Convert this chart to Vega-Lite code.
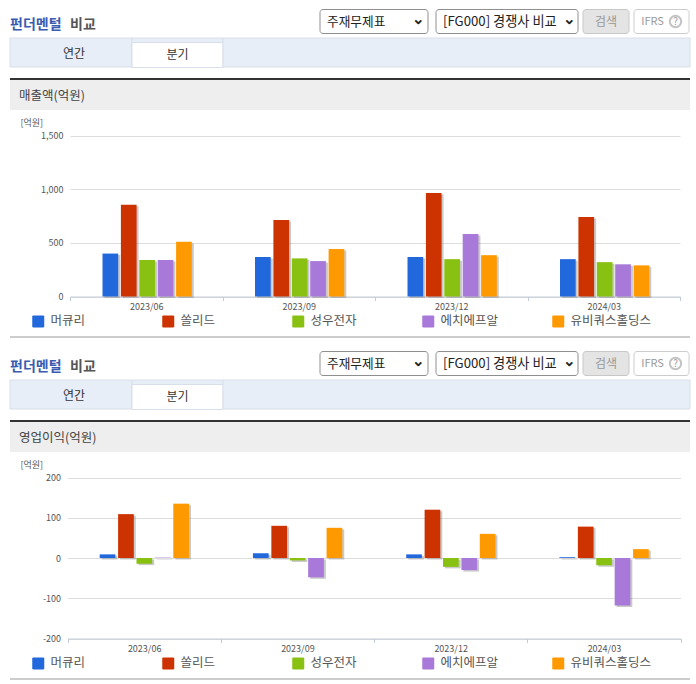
{
  "$schema": "https://vega.github.io/schema/vega-lite/v6.json",
  "padding": {"left": 9, "top": 6, "right": 0, "bottom": 0},
  "background": "#ffffff",
  "spacing": 10,
  "resolve": {"scale": {"color": "independent"}, "legend": {"color": "independent"}},
  "config": {
    "font": "Noto Sans CJK KR",
    "view": {"stroke": null},
    "axis": {"labelColor": "#555555", "labelFontSize": 9}
  },
  "datasets": {
    "one": [{"k": 1}],
    "revenue": [
      {"period": "2023/06", "company": "머큐리", "value": 400},
      {"period": "2023/06", "company": "쏠리드", "value": 855},
      {"period": "2023/06", "company": "성우전자", "value": 340},
      {"period": "2023/06", "company": "에치에프알", "value": 340},
      {"period": "2023/06", "company": "유비쿼스홀딩스", "value": 510},
      {"period": "2023/09", "company": "머큐리", "value": 368},
      {"period": "2023/09", "company": "쏠리드", "value": 712},
      {"period": "2023/09", "company": "성우전자", "value": 355},
      {"period": "2023/09", "company": "에치에프알", "value": 330},
      {"period": "2023/09", "company": "유비쿼스홀딩스", "value": 442},
      {"period": "2023/12", "company": "머큐리", "value": 368},
      {"period": "2023/12", "company": "쏠리드", "value": 965},
      {"period": "2023/12", "company": "성우전자", "value": 348},
      {"period": "2023/12", "company": "에치에프알", "value": 582},
      {"period": "2023/12", "company": "유비쿼스홀딩스", "value": 385},
      {"period": "2024/03", "company": "머큐리", "value": 348},
      {"period": "2024/03", "company": "쏠리드", "value": 740},
      {"period": "2024/03", "company": "성우전자", "value": 320},
      {"period": "2024/03", "company": "에치에프알", "value": 300},
      {"period": "2024/03", "company": "유비쿼스홀딩스", "value": 290}
    ],
    "profit": [
      {"period": "2023/06", "company": "머큐리", "value": 9},
      {"period": "2023/06", "company": "쏠리드", "value": 109},
      {"period": "2023/06", "company": "성우전자", "value": -14},
      {"period": "2023/06", "company": "에치에프알", "value": 1},
      {"period": "2023/06", "company": "유비쿼스홀딩스", "value": 135},
      {"period": "2023/09", "company": "머큐리", "value": 12},
      {"period": "2023/09", "company": "쏠리드", "value": 80},
      {"period": "2023/09", "company": "성우전자", "value": -6},
      {"period": "2023/09", "company": "에치에프알", "value": -48},
      {"period": "2023/09", "company": "유비쿼스홀딩스", "value": 75},
      {"period": "2023/12", "company": "머큐리", "value": 9},
      {"period": "2023/12", "company": "쏠리드", "value": 120},
      {"period": "2023/12", "company": "성우전자", "value": -22},
      {"period": "2023/12", "company": "에치에프알", "value": -30},
      {"period": "2023/12", "company": "유비쿼스홀딩스", "value": 60},
      {"period": "2024/03", "company": "머큐리", "value": 2},
      {"period": "2024/03", "company": "쏠리드", "value": 78},
      {"period": "2024/03", "company": "성우전자", "value": -18},
      {"period": "2024/03", "company": "에치에프알", "value": -118},
      {"period": "2024/03", "company": "유비쿼스홀딩스", "value": 22}
    ]
  },
  "data": {"name": "one"},
  "vconcat": [
    {
      "spacing": 0,
      "vconcat": [
        {
          "spacing": 0, "bounds": "flush",
          "hconcat": [
            {"width": 306, "height": 31, "layer": [
              {"mark": {"type": "text", "text": "펀더멘털", "align": "left", "dx": -153, "dy": 3, "fontSize": 14, "fontWeight": "bold", "color": "#3a5cb0"}},
              {"mark": {"type": "text", "text": "비교", "align": "left", "dx": -93, "dy": 3, "fontSize": 14, "fontWeight": "bold", "color": "#555555"}}
            ]},
            {"width": 116, "height": 31, "layer": [
              {"mark": {"type": "rect", "width": 108, "height": 24, "xOffset": -58, "yOffset": 15.5, "cornerRadius": 3, "fill": "#ffffff", "stroke": "#8f8f8f"}},
              {"mark": {"type": "text", "text": "주재무제표", "align": "left", "dx": -47, "fontSize": 12.7, "color": "#222222"}},
              {"mark": {"type": "text", "text": "⌄", "dx": 44, "dy": -3, "fontSize": 15, "fontWeight": "bold", "color": "#222222"}}
            ]},
            {"width": 150, "height": 31, "layer": [
              {"mark": {"type": "rect", "width": 142, "height": 24, "xOffset": -75, "yOffset": 15.5, "cornerRadius": 3, "fill": "#ffffff", "stroke": "#8f8f8f"}},
              {"mark": {"type": "text", "text": "[FG000] 경쟁사 비교", "align": "left", "dx": -64, "fontSize": 13.2, "color": "#222222"}},
              {"mark": {"type": "text", "text": "⌄", "dx": 62, "dy": -3, "fontSize": 15, "fontWeight": "bold", "color": "#222222"}}
            ]},
            {"width": 48, "height": 31, "layer": [
              {"mark": {"type": "rect", "width": 46, "height": 24, "xOffset": -24, "yOffset": 15.5, "cornerRadius": 3, "fill": "#e4e4e4", "stroke": "#c8c8c8"}},
              {"mark": {"type": "text", "text": "검색", "fontSize": 12, "color": "#999999"}}
            ]},
            {"width": 63, "height": 31, "layer": [
              {"mark": {"type": "rect", "width": 55, "height": 24, "xOffset": -31.5, "yOffset": 15.5, "cornerRadius": 3, "fill": "#ffffff", "stroke": "#cccccc"}},
              {"mark": {"type": "text", "text": "IFRS", "dx": -9, "fontSize": 11, "color": "#999999"}},
              {"mark": {"type": "text", "text": "?", "dx": 14, "fontSize": 10, "color": "#999999"}},
              {"mark": {"type": "point", "shape": "circle", "size": 130, "xOffset": 14, "stroke": "#aaaaaa", "fill": null}}
            ]}
          ]
        },
        {
          "spacing": 0, "bounds": "flush",
          "hconcat": [
            {"width": 122, "height": 29, "layer": [
              {"mark": {"type": "rect", "fill": "#e8eef8", "stroke": "#d8dfea"}},
              {"mark": {"type": "text", "text": "연간", "dx": 3, "dy": 1.5, "fontSize": 12, "color": "#333333"}}
            ]},
            {"width": 91, "height": 29, "layer": [
              {"mark": {"type": "rect", "fill": "#e8eef8", "stroke": "#d8dfea"}},
              {"mark": {"type": "rect", "width": 91, "height": 25, "xOffset": -45.5, "yOffset": 17, "fill": "#ffffff", "stroke": "#d8dfea"}},
              {"mark": {"type": "text", "text": "분기", "dy": 2, "fontSize": 12, "color": "#333333"}}
            ]},
            {"width": 467, "height": 29, "mark": {"type": "rect", "fill": "#e8eef8", "stroke": "#d8dfea"}}
          ]
        }
      ]
    },
    {
      "spacing": 0,
      "resolve": {"scale": {"color": "independent"}, "legend": {"color": "independent"}},
      "vconcat": [
        {"width": 680, "height": 2, "mark": {"type": "rect", "fill": "#333333"}},
        {"width": 680, "height": 30, "layer": [
          {"mark": {"type": "rect", "fill": "#eeeeee"}},
          {"mark": {"type": "text", "text": "매출액(억원)", "align": "left", "dx": -331, "dy": 1, "fontSize": 12.5, "color": "#444444"}}
        ]},
        {
          "width": 680, "height": 226,
          "data": {"name": "revenue"},
          "encoding": {
            "x": {
              "field": "period", "type": "nominal", "title": null,
              "scale": {"domain": ["2023/06", "2023/09", "2023/12", "2024/03"], "range": [60, 670], "paddingInner": 0, "paddingOuter": 0},
              "axis": {"offset": -39.5, "labelAngle": 0, "tickBand": "extent", "tickSize": 4, "labelPadding": 2, "domainColor": "#c3cbd9", "tickColor": "#c3cbd9", "grid": false}
            },
            "y": {
              "field": "value", "type": "quantitative",
              "scale": {"domain": [0, 1500], "range": [186.5, 25.5], "nice": false},
              "axis": {"values": [0, 500, 1000, 1500], "format": ",.0f", "offset": -60, "domain": false, "ticks": false, "labelPadding": 7, "gridColor": "#dddddd", "title": "[억원]", "titleAngle": 0, "titleX": -50, "titleY": 12, "titleAlign": "left", "titleBaseline": "middle", "titleFontSize": 9, "titleFontWeight": "normal", "titleColor": "#555555"}
            }
          },
          "resolve": {"scale": {"xOffset": "independent"}},
          "layer": [
            {
              "mark": {"type": "bar", "color": "#888888", "opacity": 0.45, "yOffset": 1.5},
              "encoding": {
                "xOffset": {
                  "field": "company", "type": "nominal",
                  "scale": {"domain": ["머큐리", "쏠리드", "성우전자", "에치에프알", "유비쿼스홀딩스"], "range": [34.5, 123.8], "paddingInner": 0.147, "paddingOuter": 0}
                }
              }
            },
            {
              "mark": {"type": "bar"},
              "encoding": {
                "xOffset": {
                  "field": "company", "type": "nominal",
                  "scale": {"domain": ["머큐리", "쏠리드", "성우전자", "에치에프알", "유비쿼스홀딩스"], "range": [32.5, 121.8], "paddingInner": 0.147, "paddingOuter": 0}
                },
                "color": {
                  "field": "company", "type": "nominal",
                  "scale": {"domain": ["머큐리", "쏠리드", "성우전자", "에치에프알", "유비쿼스홀딩스"], "range": ["#2268dd", "#cc3300", "#88c111", "#a879d9", "#ff9900"]},
                  "legend": {"title": null, "orient": "none", "legendX": 22, "legendY": 205, "columns": 5, "gridAlign": "all", "columnPadding": 30, "labelFontSize": 12.5, "labelColor": "#555555", "labelLimit": 200, "labelOffset": 6, "symbolSize": 144, "symbolStrokeWidth": 0, "symbolType": "M-.8,-1H.8Q1,-1 1,-.8V.8Q1,1 .8,1H-.8Q-1,1 -1,.8V-.8Q-1,-1 -.8,-1Z"}
                }
              }
            }
          ]
        },
        {"width": 680, "height": 2, "mark": {"type": "rect", "fill": "#cccccc"}}
      ]
    },
    {
      "spacing": 0,
      "vconcat": [
        {
          "spacing": 0, "bounds": "flush",
          "hconcat": [
            {"width": 306, "height": 31, "layer": [
              {"mark": {"type": "text", "text": "펀더멘털", "align": "left", "dx": -153, "dy": 3, "fontSize": 14, "fontWeight": "bold", "color": "#3a5cb0"}},
              {"mark": {"type": "text", "text": "비교", "align": "left", "dx": -93, "dy": 3, "fontSize": 14, "fontWeight": "bold", "color": "#555555"}}
            ]},
            {"width": 116, "height": 31, "layer": [
              {"mark": {"type": "rect", "width": 108, "height": 24, "xOffset": -58, "yOffset": 15.5, "cornerRadius": 3, "fill": "#ffffff", "stroke": "#8f8f8f"}},
              {"mark": {"type": "text", "text": "주재무제표", "align": "left", "dx": -47, "fontSize": 12.7, "color": "#222222"}},
              {"mark": {"type": "text", "text": "⌄", "dx": 44, "dy": -3, "fontSize": 15, "fontWeight": "bold", "color": "#222222"}}
            ]},
            {"width": 150, "height": 31, "layer": [
              {"mark": {"type": "rect", "width": 142, "height": 24, "xOffset": -75, "yOffset": 15.5, "cornerRadius": 3, "fill": "#ffffff", "stroke": "#8f8f8f"}},
              {"mark": {"type": "text", "text": "[FG000] 경쟁사 비교", "align": "left", "dx": -64, "fontSize": 13.2, "color": "#222222"}},
              {"mark": {"type": "text", "text": "⌄", "dx": 62, "dy": -3, "fontSize": 15, "fontWeight": "bold", "color": "#222222"}}
            ]},
            {"width": 48, "height": 31, "layer": [
              {"mark": {"type": "rect", "width": 46, "height": 24, "xOffset": -24, "yOffset": 15.5, "cornerRadius": 3, "fill": "#e4e4e4", "stroke": "#c8c8c8"}},
              {"mark": {"type": "text", "text": "검색", "fontSize": 12, "color": "#999999"}}
            ]},
            {"width": 63, "height": 31, "layer": [
              {"mark": {"type": "rect", "width": 55, "height": 24, "xOffset": -31.5, "yOffset": 15.5, "cornerRadius": 3, "fill": "#ffffff", "stroke": "#cccccc"}},
              {"mark": {"type": "text", "text": "IFRS", "dx": -9, "fontSize": 11, "color": "#999999"}},
              {"mark": {"type": "text", "text": "?", "dx": 14, "fontSize": 10, "color": "#999999"}},
              {"mark": {"type": "point", "shape": "circle", "size": 130, "xOffset": 14, "stroke": "#aaaaaa", "fill": null}}
            ]}
          ]
        },
        {
          "spacing": 0, "bounds": "flush",
          "hconcat": [
            {"width": 122, "height": 29, "layer": [
              {"mark": {"type": "rect", "fill": "#e8eef8", "stroke": "#d8dfea"}},
              {"mark": {"type": "text", "text": "연간", "dx": 3, "dy": 1.5, "fontSize": 12, "color": "#333333"}}
            ]},
            {"width": 91, "height": 29, "layer": [
              {"mark": {"type": "rect", "fill": "#e8eef8", "stroke": "#d8dfea"}},
              {"mark": {"type": "rect", "width": 91, "height": 25, "xOffset": -45.5, "yOffset": 17, "fill": "#ffffff", "stroke": "#d8dfea"}},
              {"mark": {"type": "text", "text": "분기", "dy": 2, "fontSize": 12, "color": "#333333"}}
            ]},
            {"width": 467, "height": 29, "mark": {"type": "rect", "fill": "#e8eef8", "stroke": "#d8dfea"}}
          ]
        }
      ]
    },
    {
      "spacing": 0,
      "resolve": {"scale": {"color": "independent"}, "legend": {"color": "independent"}},
      "vconcat": [
        {"width": 680, "height": 2, "mark": {"type": "rect", "fill": "#333333"}},
        {"width": 680, "height": 30, "layer": [
          {"mark": {"type": "rect", "fill": "#eeeeee"}},
          {"mark": {"type": "text", "text": "영업이익(억원)", "align": "left", "dx": -331, "dy": 1, "fontSize": 12.5, "color": "#444444"}}
        ]},
        {
          "width": 680, "height": 226,
          "data": {"name": "profit"},
          "encoding": {
            "x": {
              "field": "period", "type": "nominal", "title": null,
              "scale": {"domain": ["2023/06", "2023/09", "2023/12", "2024/03"], "range": [57.5, 670.5], "paddingInner": 0, "paddingOuter": 0},
              "axis": {"offset": -39.5, "labelAngle": 0, "tickBand": "extent", "tickSize": 4, "labelPadding": 2, "domainColor": "#c3cbd9", "tickColor": "#c3cbd9", "grid": false}
            },
            "y": {
              "field": "value", "type": "quantitative",
              "scale": {"domain": [-200, 200], "range": [186.5, 25.5], "nice": false},
              "axis": {"values": [-200, -100, 0, 100, 200], "labelExpr": "datum.value + ''", "offset": -57.5, "domain": false, "ticks": false, "labelPadding": 7, "gridColor": "#dddddd", "title": "[억원]", "titleAngle": 0, "titleX": -47.5, "titleY": 12, "titleAlign": "left", "titleBaseline": "middle", "titleFontSize": 9, "titleFontWeight": "normal", "titleColor": "#555555"}
            }
          },
          "resolve": {"scale": {"xOffset": "independent"}},
          "layer": [
            {
              "mark": {"type": "bar", "color": "#888888", "opacity": 0.45, "yOffset": 1.5},
              "encoding": {
                "xOffset": {
                  "field": "company", "type": "nominal",
                  "scale": {"domain": ["머큐리", "쏠리드", "성우전자", "에치에프알", "유비쿼스홀딩스"], "range": [34.2, 123.5], "paddingInner": 0.147, "paddingOuter": 0}
                }
              }
            },
            {
              "mark": {"type": "bar"},
              "encoding": {
                "xOffset": {
                  "field": "company", "type": "nominal",
                  "scale": {"domain": ["머큐리", "쏠리드", "성우전자", "에치에프알", "유비쿼스홀딩스"], "range": [32.2, 121.5], "paddingInner": 0.147, "paddingOuter": 0}
                },
                "color": {
                  "field": "company", "type": "nominal",
                  "scale": {"domain": ["머큐리", "쏠리드", "성우전자", "에치에프알", "유비쿼스홀딩스"], "range": ["#2268dd", "#cc3300", "#88c111", "#a879d9", "#ff9900"]},
                  "legend": {"title": null, "orient": "none", "legendX": 22, "legendY": 205, "columns": 5, "gridAlign": "all", "columnPadding": 30, "labelFontSize": 12.5, "labelColor": "#555555", "labelLimit": 200, "labelOffset": 6, "symbolSize": 144, "symbolStrokeWidth": 0, "symbolType": "M-.8,-1H.8Q1,-1 1,-.8V.8Q1,1 .8,1H-.8Q-1,1 -1,.8V-.8Q-1,-1 -.8,-1Z"}
                }
              }
            }
          ]
        },
        {"width": 680, "height": 2, "mark": {"type": "rect", "fill": "#cccccc"}}
      ]
    }
  ]
}
